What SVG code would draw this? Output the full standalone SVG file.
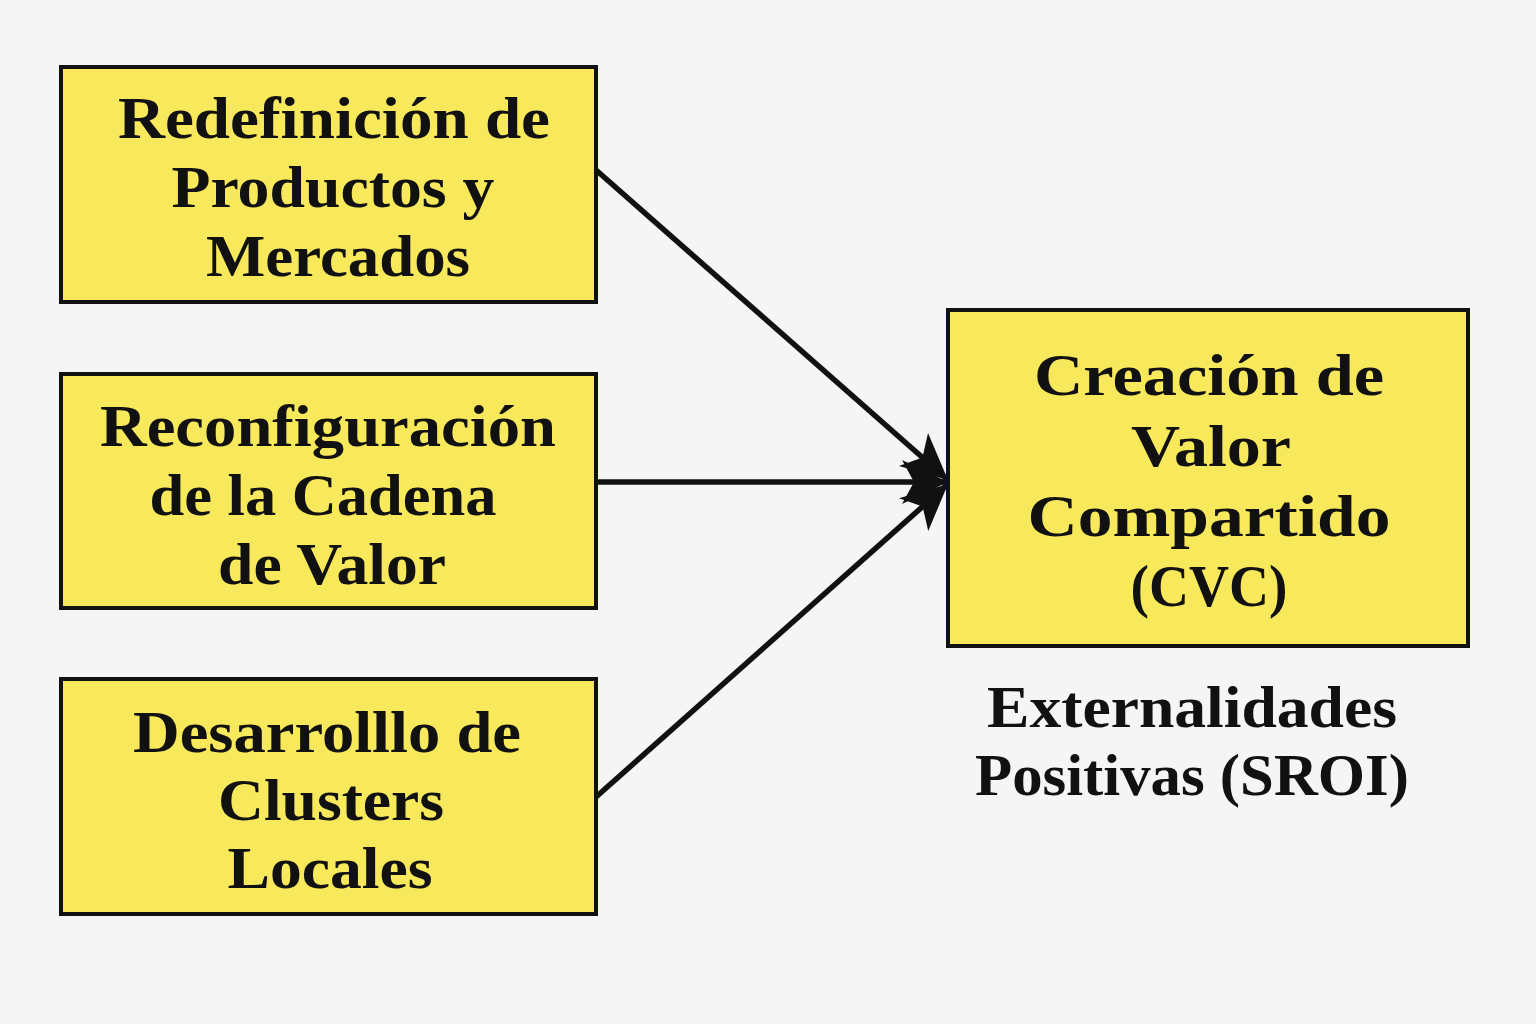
<svg xmlns="http://www.w3.org/2000/svg" width="1536" height="1024" viewBox="0 0 1536 1024">
<style>
.box{fill:#F8E95C;stroke:#111;stroke-width:4}
.t{font-family:"Liberation Serif","DejaVu Serif",serif;font-weight:bold;font-size:60px;fill:#111;text-anchor:middle}
.c{stroke:#111;stroke-width:5.5;fill:none}
</style>
<defs>
<marker id="ah" markerUnits="userSpaceOnUse" markerWidth="52" markerHeight="52" refX="46" refY="24" orient="auto">
<path d="M0,2 L46,24 L0,46 L12,24 Z" fill="#111"/>
</marker>
</defs>
<rect width="1536" height="1024" fill="#F5F5F5"/>
<g id="connectors">
<line class="c" x1="596" y1="170" x2="948" y2="480" marker-end="url(#ah)"/>
<line class="c" x1="596" y1="482" x2="948" y2="482" marker-end="url(#ah)"/>
<line class="c" x1="596" y1="797" x2="948" y2="484" marker-end="url(#ah)"/>
</g>
<g id="n1">
<rect class="box" x="61" y="67" width="535" height="235"/>
<text class="t" x="334" y="138" textLength="432" lengthAdjust="spacingAndGlyphs">Redefinición de</text>
<text class="t" x="333" y="207" textLength="323" lengthAdjust="spacingAndGlyphs">Productos y</text>
<text class="t" x="338" y="276" textLength="264" lengthAdjust="spacingAndGlyphs">Mercados</text>
</g>
<g id="n2">
<rect class="box" x="61" y="374" width="535" height="234"/>
<text class="t" x="328" y="446" textLength="456" lengthAdjust="spacingAndGlyphs">Reconfiguración</text>
<text class="t" x="323" y="515" textLength="347" lengthAdjust="spacingAndGlyphs">de la Cadena</text>
<text class="t" x="332" y="584" textLength="228" lengthAdjust="spacingAndGlyphs">de Valor</text>
</g>
<g id="n3">
<rect class="box" x="61" y="679" width="535" height="235"/>
<text class="t" x="327" y="752" textLength="388" lengthAdjust="spacingAndGlyphs">Desarrolllo de</text>
<text class="t" x="331" y="820" textLength="226" lengthAdjust="spacingAndGlyphs">Clusters</text>
<text class="t" x="330" y="888" textLength="205" lengthAdjust="spacingAndGlyphs">Locales</text>
</g>
<g id="n4">
<rect class="box" x="948" y="310" width="520" height="336"/>
<text class="t" x="1209" y="395" textLength="350" lengthAdjust="spacingAndGlyphs">Creación de</text>
<text class="t" x="1211" y="466" textLength="160" lengthAdjust="spacingAndGlyphs">Valor</text>
<text class="t" x="1209" y="536" textLength="363" lengthAdjust="spacingAndGlyphs">Compartido</text>
<text class="t" x="1209" y="606" font-size="64" textLength="157" lengthAdjust="spacingAndGlyphs">(CVC)</text>
</g>
<g id="label">
<text class="t" x="1192" y="727" textLength="410" lengthAdjust="spacingAndGlyphs">Externalidades</text>
<text class="t" x="1192" y="795" textLength="434" lengthAdjust="spacingAndGlyphs">Positivas (SROI)</text>
</g>
</svg>
